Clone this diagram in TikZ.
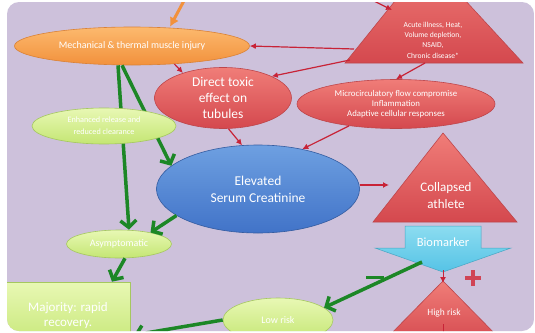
\documentclass[tikz,border=0pt]{standalone}
\usepackage{fontspec}
\setmainfont{Carlito}
\usetikzlibrary{shapes.geometric,arrows.meta}
\definecolor{lavender}{RGB}{205,193,219}
\definecolor{redtop}{RGB}{240,125,120}
\definecolor{redbot}{RGB}{212,72,78}
\definecolor{redline}{RGB}{190,70,75}
\definecolor{redarrow}{RGB}{200,35,55}
\definecolor{greentop}{RGB}{232,248,180}
\definecolor{greenbot}{RGB}{196,230,115}
\definecolor{greenline}{RGB}{165,200,95}
\definecolor{greenarrow}{RGB}{28,135,38}
\definecolor{bluetop}{RGB}{110,160,225}
\definecolor{bluebot}{RGB}{65,115,200}
\definecolor{orangetop}{RGB}{252,185,110}
\definecolor{orangebot}{RGB}{242,145,60}
\definecolor{cyantop}{RGB}{140,220,240}
\definecolor{cyanbot}{RGB}{85,195,230}
\tikzset{
  bubble/.style={ellipse,inner sep=0pt,align=center,text=white},
  redbubble/.style={bubble,top color=redtop,bottom color=redbot,draw=redline,line width=0.6pt},
  greenbubble/.style={bubble,top color=greentop,bottom color=greenbot,draw=greenline,line width=0.6pt},
  bluebubble/.style={bubble,top color=bluetop,bottom color=bluebot,draw=bluebot!80!black,line width=0.6pt},
  orangebubble/.style={bubble,top color=orangetop,bottom color=orangebot,draw=orangebot!90!black,line width=0.6pt},
  redtri/.style={top color=redtop,bottom color=redbot,draw=redline,line width=0.6pt},
  tritext/.style={inner sep=0pt,align=center,text=white},
  redlink/.style={-{Latex[length=6pt,width=6pt]},line width=1.2pt,color=redarrow},
  greenlink/.style={-{Straight Barb[length=7pt,width=16pt]},line width=3.5pt,color=greenarrow},
}
\begin{document}
\begin{tikzpicture}[x=1pt,y=-1pt]
  \useasboundingbox (0,0) rectangle (535,332);
  \fill[white] (0,0) rectangle (535,332);
  \begin{scope}
  \clip[rounded corners=12pt] (7,2) rectangle (534,331);
  \fill[lavender] (0,0) rectangle (535,332);
  % shapes
  \node[bluebubble,minimum width=190pt,minimum height=50pt] (origin) at (292,-24) {};
  \shade[redtri] (428,-40) -- (345,63) -- (523,63) -- cycle;
  \node[tritext,font={\fontsize{7.6}{10.3}\selectfont}] (risk) at (433,40)
    {Acute illness, Heat,\\Volume depletion,\\NSAID,\\Chronic disease*};
  \node[orangebubble,minimum width=235pt,minimum height=38pt,font={\fontsize{10}{12}\selectfont}] (injury) at (132,46)
    {Mechanical \& thermal muscle injury};
  \node[redbubble,minimum width=137pt,minimum height=61pt,font={\fontsize{13.5}{16}\selectfont}] (toxic) at (223,98)
    {Direct toxic\\effect on\\tubules};
  \node[redbubble,minimum width=198pt,minimum height=49pt,font={\fontsize{8.8}{10.3}\selectfont}] (micro) at (396,104)
    {Microcirculatory flow compromise\\Inflammation\\Adaptive cellular responses};
  \node[bluebubble,minimum width=203pt,minimum height=88pt,font={\fontsize{13.5}{17}\selectfont}] (elev) at (258,189)
    {Elevated\\Serum Creatinine};
  \shade[redtri] (443,133) -- (373,222) -- (517,222) -- cycle;
  \node[tritext,font={\fontsize{13}{17}\selectfont}] (collapsed) at (446,196) {Collapsed\\athlete};
  \shade[top color=cyantop,bottom color=cyanbot,draw=cyanbot!85!black,line width=0.5pt]
    (405,226) -- (481,226) -- (481,248) -- (511,248) -- (443,272) -- (375,248) -- (405,248) -- cycle;
  \node[tritext,font={\fontsize{12.5}{13}\selectfont}] (bio) at (443,242) {Biomarker};
  \shade[redtri] (443,281) -- (380,345) -- (506,345) -- cycle;
  \node[tritext,font={\fontsize{9.5}{10}\selectfont}] (high) at (444,313) {High risk};
  \node[greenbubble,minimum width=105pt,minimum height=28pt,font={\fontsize{10}{10}\selectfont}] (asym) at (119,244)
    {Asymptomatic};
  \node[greenbubble,minimum width=110pt,minimum height=44pt,font={\fontsize{10}{10}\selectfont}] (low) at (278,320)
    {Low risk};
  \node[rectangle,top color=greentop,bottom color=greenbot,draw=greenline,line width=0.6pt,
    minimum width=124pt,minimum height=68pt,inner sep=0pt,align=center,text=white,
    font={\fontsize{13}{15}\selectfont}] (major) at (68,316) {Majority: rapid\\recovery.};
  % connector ends
  \coordinate (orgsrc) at (186,-3);
  \coordinate (topsrc) at (364,-4);
  \coordinate (riskTop) at (392,10);
  \coordinate (riskW) at (354,49);
  \coordinate (riskSW) at (350,60);
  \coordinate (riskS) at (425,63);
  \coordinate (collW) at (389,185);
  \coordinate (bioL) at (422,262);
  \coordinate (bioTip) at (443,270);
  \coordinate (highTop) at (443,283);
  \coordinate (highLow) at (443,324);
  \coordinate (highOut) at (443,340);
  \coordinate (majIn) at (134,335);
  % arrows
  \draw[-{Latex[length=9pt,width=10pt]},line width=3pt,color=orangebot] (orgsrc) -- (injury.north -| 170,0);
  \draw[redlink] (topsrc) -- (riskTop);
  \draw[redlink] (riskW) -- (injury.east);
  \draw[redlink] (riskSW) -- (toxic.24);
  \draw[redlink] (riskS) -- (micro.north);
  \draw[redlink] (injury.-23) -- (toxic.148);
  \draw[redlink] (toxic.-80) -- (elev.110);
  \draw[redlink] (micro.205) -- (elev.42);
  \draw[redlink,line width=1.6pt] (elev.east |- collW) -- (collW);
  \draw[redlink,line width=1pt] (bioTip) -- (highTop);
  \draw[redarrow,line width=1pt] (highLow) -- (highOut);
  \draw[greenlink] (injury.south -| 118,0) -- (asym.north -| 129,0);
  \draw[greenlink] (injury.south -| 122,0) -- (elev.165);
  \draw[greenlink] (elev.198) -- (asym.20);
  \draw[greenlink] (asym.south -| 125,0) -- (major.north -| 112,0);
  \draw[greenlink] (bioL) -- (low.15);
  \draw[greenlink] (low.west) -- (majIn);
  \draw[greenarrow,line width=3pt] (366,277) -- (384,277);
  \draw[redarrow!85!white,line width=4.5pt] (473,270) -- (473,286) (465,278) -- (481,278);
  \node[greenbubble,minimum width=144pt,minimum height=36pt,font={\fontsize{8.2}{12}\selectfont}] (enhanced) at (104,126)
    {Enhanced release and\\reduced clearance};
  \end{scope}
\end{tikzpicture}
\end{document}
